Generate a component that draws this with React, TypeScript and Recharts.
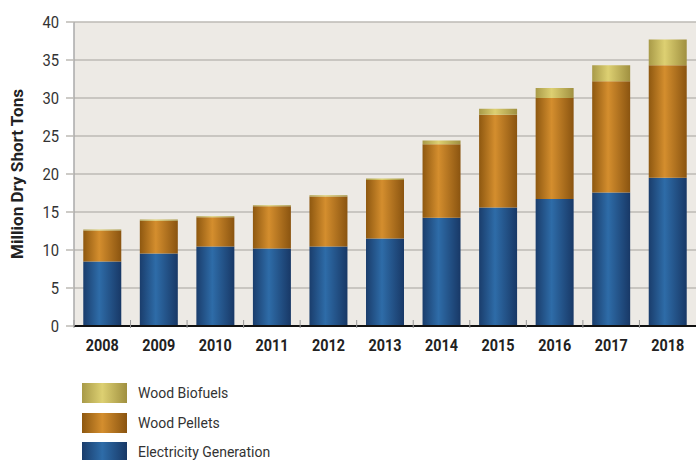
import React from "react";
import { BarChart, Bar, XAxis, YAxis, CartesianGrid } from "recharts";

const years = ["2008", "2009", "2010", "2011", "2012", "2013", "2014", "2015", "2016", "2017", "2018"];
const electricity = [8.5, 9.55, 10.45, 10.2, 10.45, 11.5, 14.25, 15.6, 16.7, 17.55, 19.5];
const pellets = [4.05, 4.3, 3.85, 5.55, 6.6, 7.7, 9.65, 12.2, 13.3, 14.65, 14.8];
const biofuels = [0.15, 0.15, 0.15, 0.15, 0.15, 0.2, 0.5, 0.8, 1.3, 2.1, 3.4];
const yTicks = [0, 5, 10, 15, 20, 25, 30, 35, 40];
const legendItems = [
  { name: "Wood Biofuels", colors: ["#a89a48", "#ddd072", "#a09040"] },
  { name: "Wood Pellets", colors: ["#8e5810", "#d48e2e", "#8a5410"] },
  { name: "Electricity Generation", colors: ["#1a3d6c", "#2e6ca8", "#183866"] },
];

const data = years.map((y, i) => ({
  year: y,
  electricity: electricity[i],
  pellets: pellets[i],
  biofuels: biofuels[i],
}));

const FONT = "'Liberation Sans Narrow', 'Arial Narrow', 'Roboto', sans-serif";

const XTick = (props: any) => {
  const { x, y, payload } = props;
  const half = 56.6 / 2;
  return (
    <g>
      <line x1={x - half} x2={x - half} y1={y - 14} y2={y - 6} stroke="#999" strokeWidth={1} />
      <text
        x={x}
        y={y + 17}
        textAnchor="middle"
        fontFamily={FONT}
        fontWeight="bold"
        fontSize={17}
        fill="#222"
        textLength={33}
        lengthAdjust="spacingAndGlyphs"
      >
        {payload.value}
      </text>
    </g>
  );
};

const YTick = (props: any) => {
  const { x, y, payload } = props;
  const s = String(payload.value);
  return (
    <text
      x={x}
      y={y + 6}
      textAnchor="end"
      fontFamily={FONT}
      fontSize={16.5}
      fill="#333"
      textLength={s.length * 8.3}
      lengthAdjust="spacingAndGlyphs"
    >
      {s}
    </text>
  );
};

const YLabel = (props: any) => {
  const vb = props.viewBox || {};
  const cy = (vb.y ?? 22) + (vb.height ?? 304) / 2;
  return (
    <text
      x={0}
      y={0}
      transform={`translate(23, ${cy}) rotate(-90)`}
      textAnchor="middle"
      fontFamily={FONT}
      fontWeight="bold"
      fontSize={16}
      fill="#222"
      textLength={170}
      lengthAdjust="spacingAndGlyphs"
    >
      Million Dry Short Tons
    </text>
  );
};

const grad = (id: string, c: string[]) => (
  <linearGradient id={id} x1="0" y1="0" x2="1" y2="0">
    <stop offset="0%" stopColor={c[0]} />
    <stop offset="42%" stopColor={c[1]} />
    <stop offset="100%" stopColor={c[2]} />
  </linearGradient>
);

export default function App() {
  return (
    <div style={{ position: "absolute", left: 0, top: 0, width: 696, height: 460, background: "#fff" }}>
      <BarChart
        width={696}
        height={460}
        data={data}
        margin={{ top: 22, right: 0, bottom: 0, left: 0 }}
        barCategoryGap="16.4%"
      >
        <defs>
          {grad("gBio", legendItems[0].colors)}
          {grad("gPel", legendItems[1].colors)}
          {grad("gEle", legendItems[2].colors)}
        </defs>
        <CartesianGrid vertical={false} stroke="#bdbab5" strokeWidth={1.5} fill="#edeae5" />
        <XAxis
          dataKey="year"
          height={134}
          axisLine={{ stroke: "#111", strokeWidth: 2 }}
          tickLine={false}
          tick={<XTick />}
          interval={0}
        />
        <YAxis
          width={74}
          domain={[0, 40]}
          ticks={yTicks}
          interval={0}
          axisLine={{ stroke: "#aaa", strokeWidth: 1.5 }}
          tickLine={{ stroke: "#bdbab5", strokeWidth: 1.5 }}
          tickSize={8}
          tickMargin={7}
          tick={<YTick />}
          label={<YLabel />}
        />
        <Bar dataKey="electricity" stackId="a" fill="url(#gEle)" isAnimationActive={false} />
        <Bar dataKey="pellets" stackId="a" fill="url(#gPel)" isAnimationActive={false} />
        <Bar dataKey="biofuels" stackId="a" fill="url(#gBio)" isAnimationActive={false} />
      </BarChart>
      <div style={{ position: "absolute", left: 82, top: 383 }}>
        {legendItems.map((it, i) => (
          <div key={it.name} style={{ position: "absolute", left: 0, top: i * 29.5, display: "flex", alignItems: "center" }}>
            <div
              style={{
                width: 45,
                height: 20,
                background: `linear-gradient(to right, ${it.colors[0]}, ${it.colors[1]} 45%, ${it.colors[2]})`,
              }}
            />
            <div
              style={{
                marginLeft: 11,
                fontFamily: FONT,
                fontSize: 14,
                color: "#333",
                whiteSpace: "nowrap",
              }}
            >
              {it.name}
            </div>
          </div>
        ))}
      </div>
    </div>
  );
}
